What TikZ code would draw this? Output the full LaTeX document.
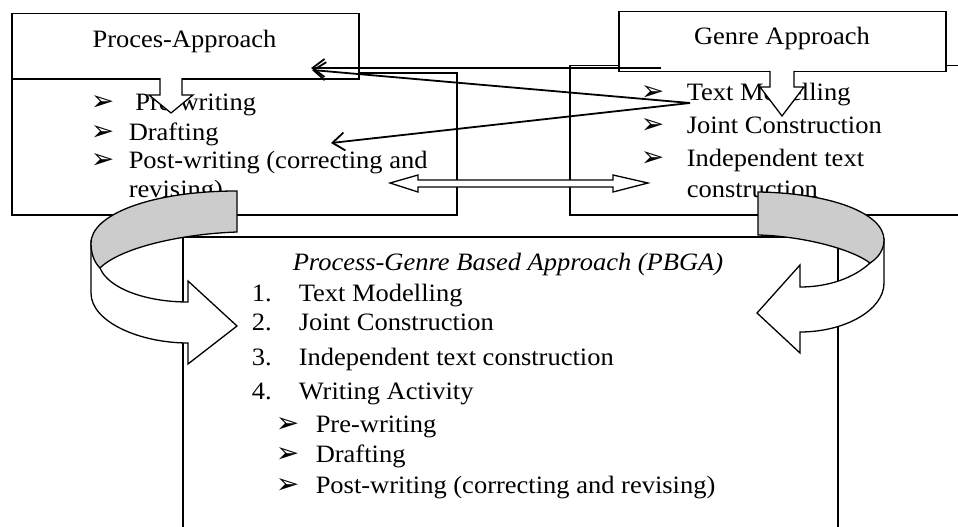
\documentclass[tikz,border=0pt]{standalone}
\usepackage{fontspec}
\setmainfont{Liberation Serif}[FakeStretch=1.06]
\newfontfamily\dingfont{DejaVu Sans}
\usetikzlibrary{arrows.meta}

\newcommand{\arrbul}{{\dingfont\fontsize{28}{28}\selectfont ➢}}

\begin{document}
\begin{tikzpicture}[
  x=1pt, y=-1pt,
  line width=1.5pt,
  box/.style={draw, fill=white, rectangle, inner sep=0pt, anchor=north west},
  item/.style={anchor=base west, inner sep=0pt, font=\fontsize{25}{30}\selectfont},
  ttl/.style={anchor=base, inner sep=0pt, font=\fontsize{25}{30}\selectfont},
  bul/.style={anchor=base west, inner sep=0pt},
  conn/.style={-{Straight Barb[length=12pt,width=18pt]}, line width=1.8pt},
  blockarrow/.style={draw, fill=white, line width=1.3pt, line join=miter},
  ribbon/.style={draw, fill=white, line width=1.3pt},
  band/.style={draw, fill=black!20, line width=1.3pt}
]
\useasboundingbox (0,0) rectangle (958,527);
\clip (0,0) rectangle (958,527);

% boxes
\node[box, minimum width=445pt, minimum height=142pt] (pc) at (11,72) {};
\node[box, minimum width=420pt, minimum height=149pt] (gc) at (569,65) {};
\node[box, minimum width=655pt, minimum height=320pt] (pbga) at (182,236) {};
\node[box, minimum width=347pt, minimum height=65pt] (pa) at (11,13) {};
\node[box, minimum width=327pt, minimum height=60pt] (ga) at (618,11) {};

% titles
\node[ttl] (paT) at (184.5,48) {Proces-Approach};
\node[ttl] (gaT) at (782,45) {Genre Approach};
\node[item] (pbgaT) at (292,270) {\itshape Process-Genre Based Approach (PBGA)};

% process list
\foreach \yy/\t [count=\i] in {110/{\ Pre-writing}, 140/Drafting, 168/{Post-writing (correcting and}}
{
  \node[bul] (pb\i) at (90,\yy) {\arrbul};
  \node[item] (pt\i) at (128,\yy) {\t};
}
\node[item] (pt4) at (128,197) {revising)};

% genre list
\foreach \yy/\t [count=\i] in {100/Text Modelling, 133/Joint Construction, 166/Independent text}
{
  \node[bul] (gb\i) at (640,\yy) {\arrbul};
  \node[item] (gt\i) at (686,\yy) {\t};
}
\node[item] (gt4) at (686,197) {construction};

% combined list
\foreach \yy/\t [count=\i] in {301/Text Modelling, 330/Joint Construction, 365/Independent text construction, 399/Writing Activity}
{
  \node[item] (nn\i) at (251,\yy) {\i.};
  \node[item] (nt\i) at (298,\yy) {\t};
}
\foreach \yy/\t [count=\i] in {432/Pre-writing, 462/Drafting, 493/{Post-writing (correcting and revising)}}
{
  \node[bul] (sb\i) at (275,\yy) {\arrbul};
  \node[item] (st\i) at (315,\yy) {\t};
}

% down arrows
\draw[blockarrow] (160,78) -- (160,95) -- (149,95) -- (171,113) -- (193,95) -- (182,95) -- (182,78);
\draw[blockarrow] (770,71) -- (770,87) -- (760,87) -- (782,116) -- (804,87) -- (794,87) -- (794,71);

% connectors
\coordinate (tmod) at (690,103);
\coordinate (gaL) at (661,68);
\coordinate (paR) at (311,68);
\coordinate (paR2) at (312,70);
\coordinate (draft) at (331,143);
\draw[conn] (gaL) -- (paR);
\draw[conn] (tmod) -- (paR2);
\draw[conn] (tmod) -- (draft);

% double arrow
\draw[blockarrow] (390,183) -- (418,175) -- (418,180) -- (613,180) -- (613,175) -- (648,183)
  -- (613,192) -- (613,187) -- (418,187) -- (418,192) -- cycle;

% left curved arrow
\draw[ribbon] (91,243) -- (91,293) .. controls (91,322) and (140,343) .. (188,343) -- (188,364)
  -- (237,326) -- (188,281) -- (188,302) .. controls (145,302) and (108,288) .. (100,268) -- cycle;
\draw[band] (237,191) .. controls (150,191) and (91,215) .. (91,243) .. controls (91,255) and (95,263) .. (100,268)
  .. controls (120,248) and (180,234) .. (237,232) -- cycle;

% right curved arrow
\draw[ribbon] (884,240) -- (884,283) .. controls (884,310) and (845,332) .. (800,332) -- (800,353)
  -- (757,313) -- (800,265) -- (800,287) .. controls (830,287) and (855,277) .. (870,263) -- cycle;
\draw[band] (758,192) .. controls (830,193) and (884,213) .. (884,240) .. controls (884,250) and (878,258) .. (870,263)
  .. controls (850,248) and (800,236) .. (758,235) -- cycle;
\end{tikzpicture}
\end{document}
